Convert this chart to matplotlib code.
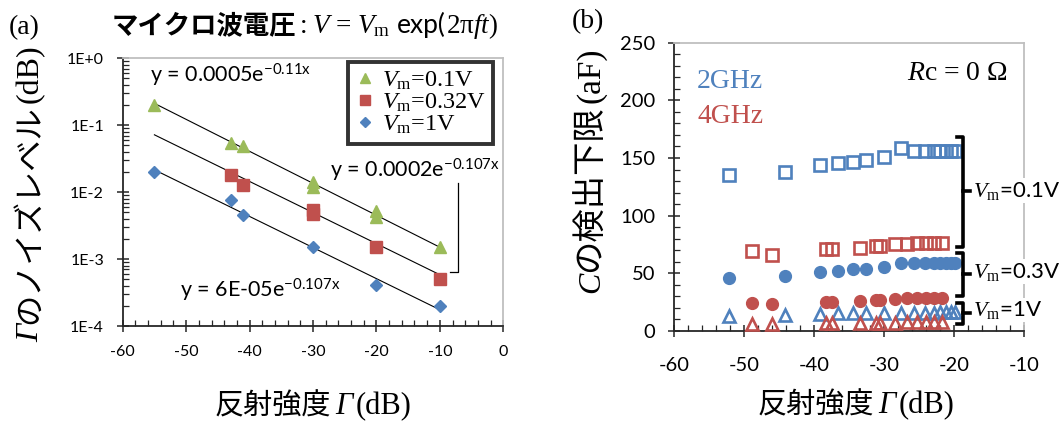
import matplotlib
matplotlib.use("Agg")
import numpy as np
import matplotlib.pyplot as plt
from matplotlib.lines import Line2D
from matplotlib.ticker import MultipleLocator, LogLocator, NullFormatter

plt.rcParams["mathtext.fontset"] = "custom"
plt.rcParams["mathtext.rm"] = "Liberation Serif"
plt.rcParams["mathtext.it"] = "Liberation Serif:italic"
plt.rcParams["mathtext.sf"] = "Lato"
plt.rcParams["font.family"] = ["Lato", "DejaVu Sans"]
plt.rcParams["axes.unicode_minus"] = False

BLUE = "#4F81BD"
RED = "#C0504D"
GREEN = "#9BBB59"
CJK = "Noto Sans CJK JP"
SERIF = "Liberation Serif"

# ---- (a) noise level vs. reflection intensity ----
gamma_v01 = [-55, -43, -41, -30, -30, -20, -20, -10]
noise_v01 = [0.20, 0.055, 0.049, 0.014, 0.012, 0.0052, 0.0042, 0.0015]
gamma_v032 = [-43, -41, -30, -30, -20, -10]
noise_v032 = [0.018, 0.0128, 0.0055, 0.0047, 0.0015, 0.00051]
gamma_v1 = [-55, -43, -41, -30, -20, -10]
noise_v1 = [0.020, 0.0076, 0.0045, 0.0015, 0.00041, 0.0002]

# exponential trend lines  y = a * exp(b * x)
fit_a = [0.0005, 0.0002, 6e-5]
fit_b = [-0.11, -0.107, -0.107]
fit_labels = ["y = 0.0005e$^{\\mathsf{-0.11x}}$",
              "y = 0.0002e$^{\\mathsf{-0.107x}}$",
              "y = 6E-05e$^{\\mathsf{-0.107x}}$"]
fit_range = [-55, -10]

legend_labels = ["$V_{\\mathrm{m}}$=0.1V", "$V_{\\mathrm{m}}$=0.32V", "$V_{\\mathrm{m}}$=1V"]

# ---- (b) detection limit of C ----
gamma_2g = [-52.2, -44.2, -39.2, -36.6, -34.4, -32.6, -30.0, -27.6, -25.7, -24.1,
            -22.8, -22.0, -21.2, -20.5, -19.8]
c_2g_v01 = [135.3, 138, 144, 145.4, 146.8, 148.3, 151.2, 158.5, 156.4, 156.4,
            156.4, 156.4, 156.4, 156.4, 156.4]
c_2g_v03 = [46.2, 48, 51.4, 52.3, 53.5, 54, 55.2, 58.7, 58.7, 58.7,
            58.7, 58.7, 58.7, 58.7, 58.7]
c_2g_v1 = [13, 14, 15, 15.3, 15.3, 15.3, 15.5, 15.8, 16, 16,
           16, 16.2, 16.2, 16.3, 16.3]

gamma_4g = [-48.8, -46.0, -38.3, -37.5, -33.5, -31.1, -30.6, -28.5, -26.7, -25.3,
            -24.0, -22.8, -21.7]
c_4g_v01 = [69.4, 66, 70.8, 70.8, 71.7, 73.7, 73.7, 75.2, 75.8, 76, 76, 76.2, 76.3]
c_4g_v03 = [24, 23, 25.5, 25.5, 26.3, 27.3, 27.3, 28, 28.3, 28.5, 28.6, 28.8, 29]
c_4g_v1 = [6, 6, 7, 7, 7, 7.2, 7.2, 7.3, 7.4, 7.5, 7.5, 7.5, 7.6]

W, H = 1063, 421
fig = plt.figure(figsize=(W / 100, H / 100), dpi=100)


def fpos(x, y):
    return x / W, 1 - y / H


def chain(x, y, pieces, rotation=0):
    """Lay out differently styled pieces one after another from (x, y) in pixels."""
    r = fig.canvas.get_renderer()
    off = 0.0
    for s, kw, gap in pieces:
        if rotation == 0:
            fx, fy = fpos(x + off, y)
        else:
            fx, fy = fpos(x, y - off)
        t = fig.text(fx, fy, s, rotation=rotation, rotation_mode="anchor",
                     ha="left", va="baseline", **kw)
        bb = t.get_window_extent(r)
        off += (bb.width if rotation == 0 else bb.height) + gap


def style_axes(ax):
    for side in ("top", "right"):
        ax.spines[side].set_color("#BFBFBF")
        ax.spines[side].set_linewidth(1.3)
    for side in ("left", "bottom"):
        ax.spines[side].set_color("#262626")
        ax.spines[side].set_linewidth(1.3)
    ax.tick_params(which="major", direction="inout", length=9, width=1.1, color="#262626")
    ax.tick_params(which="minor", direction="in", length=4, width=0.9, color="#262626")
    ax.tick_params(top=False, right=False, which="both")


# ---------------- panel (a) ----------------
ax1 = fig.add_axes([122.7 / W, 1 - 326 / H, 380.6 / W, 267.7 / H])
ax1.set_yscale("log")
ax1.set_xlim(-60, 0)
ax1.set_ylim(1e-4, 1)

h1, = ax1.plot(gamma_v01, noise_v01, "^", color=GREEN, ms=9, mec=GREEN, ls="none",
               label=legend_labels[0], zorder=3)
h2, = ax1.plot(gamma_v032, noise_v032, "s", color=RED, ms=8.5, mec=RED, ls="none",
               label=legend_labels[1], zorder=3)
h3, = ax1.plot(gamma_v1, noise_v1, "D", color=BLUE, ms=6.5, mec=BLUE, ls="none",
               label=legend_labels[2], zorder=3)

xf = np.linspace(fit_range[0], fit_range[1], 50)
for a, b in zip(fit_a, fit_b):
    ax1.plot(xf, a * np.exp(b * xf), color="black", lw=0.8, zorder=2)

ax1.text(-55.7, 0.56, fit_labels[0], fontsize=15.5, va="center", ha="left")
ax1.text(-27.3, 0.0214, fit_labels[1], fontsize=15.5, va="center", ha="left")
ax1.text(-51.0, 3.45e-4, fit_labels[2], fontsize=15.5, va="center", ha="left")
ax1.plot([-8.4, -7.1, -7.1], [6.45e-4, 6.45e-4, 0.0137], color="black", lw=0.9,
         clip_on=False)

ax1.set_xticks(range(-60, 1, 10))
ax1.xaxis.set_minor_locator(MultipleLocator(2))
ax1.set_yticks([1e-4, 1e-3, 1e-2, 1e-1, 1], ["1E-4", "1E-3", "1E-2", "1E-1", "1E+0"])
ax1.yaxis.set_minor_locator(LogLocator(base=10, subs=np.arange(2, 10)))
ax1.yaxis.set_minor_formatter(NullFormatter())
style_axes(ax1)
ax1.tick_params(axis="both", which="major", labelsize=11.5, pad=9)

leg = ax1.legend(handles=[h1, h2, h3], loc="upper right", bbox_to_anchor=(0.973, 0.986),
                 borderaxespad=0, prop={"family": SERIF, "size": 17.5}, frameon=True,
                 fancybox=False, handlelength=0.8, handletextpad=0.3, labelspacing=0.0,
                 borderpad=0.3, markerscale=0.8)
leg.get_frame().set_edgecolor("black")
leg.get_frame().set_linewidth(2.8)

# ---------------- panel (b) ----------------
ax2 = fig.add_axes([674 / W, 1 - 331 / H, 350 / W, 288.3 / H])
ax2.set_xlim(-60, -10)
ax2.set_ylim(0, 250)
open_kw = dict(ls="none", mfc="none", mew=1.9, zorder=3, clip_on=False)
ax2.plot(gamma_2g, c_2g_v01, "s", mec=BLUE, ms=9, **open_kw)
ax2.plot(gamma_2g, c_2g_v03, "o", color=BLUE, ms=8.5, ls="none", zorder=3)
ax2.plot(gamma_2g, c_2g_v1, "^", mec=BLUE, ms=9, **open_kw)
ax2.plot(gamma_4g, c_4g_v01, "s", mec=RED, ms=9, **open_kw)
ax2.plot(gamma_4g, c_4g_v03, "o", color=RED, ms=8.5, ls="none", zorder=3)
ax2.plot(gamma_4g, c_4g_v1, "^", mec=RED, ms=9, **open_kw)

ax2.set_xticks(range(-60, -9, 10))
ax2.xaxis.set_minor_locator(MultipleLocator(2))
ax2.set_yticks(range(0, 251, 50))
ax2.yaxis.set_minor_locator(MultipleLocator(10))
style_axes(ax2)
ax2.tick_params(axis="both", which="major", labelsize=14.5, pad=9)
ax2.tick_params(axis="x", which="major", pad=14)

# frequency and resistance annotations
fig.text(*fpos(697, 88), "2GHz", family=SERIF, fontsize=20, color=BLUE, va="baseline")
fig.text(*fpos(697, 122.7), "4GHz", family=SERIF, fontsize=20, color=RED, va="baseline")
fig.text(*fpos(907, 80), "$R$c = 0 Ω", family=SERIF, fontsize=20, va="baseline")

# amplitude brackets
for top, mid, bot in [(136.7, 190.7, 246.7), (252.7, 274, 296), (302.7, 312.7, 324)]:
    xs = [957.3 / W, 963.3 / W, 963.3 / W, 957.3 / W]
    ys = [1 - top / H, 1 - top / H, 1 - bot / H, 1 - bot / H]
    fig.add_artist(Line2D(xs, ys, color="black", lw=2.6, transform=fig.transFigure,
                          solid_joinstyle="round"))
    fig.add_artist(Line2D([963.3 / W, 970 / W], [1 - mid / H, 1 - mid / H], color="black",
                          lw=2.6, transform=fig.transFigure))

for y, s in [(190.7, "$V_{\\mathrm{m}}$=0.1V"), (271.7, "$V_{\\mathrm{m}}$=0.3V"),
             (310, "$V_{\\mathrm{m}}$=1V")]:
    fig.text(*fpos(973, y), s, fontsize=16, va="center", ha="left",
             bbox=dict(facecolor="white", edgecolor="none", pad=1), zorder=5)

# ---------------- labels ----------------
fig.text(*fpos(9, 34), "(a)", family=SERIF, fontsize=20, va="baseline")
fig.text(*fpos(572, 28), "(b)", family=SERIF, fontsize=20, va="baseline")

chain(112, 33, [
    ("マイクロ波電圧", dict(family=CJK, fontsize=19, weight="bold"), 3),
    (":", dict(family=SERIF, fontsize=19.5), 5),
    ("$V$ = $V_{\\mathrm{m}}$", dict(family=SERIF, fontsize=19.5), 6),
    ("exp(", dict(family="Lato", fontsize=19), 0),
    ("2π$ft$)", dict(family=SERIF, fontsize=19.5), 0),
])

gl = dict(family=SERIF, fontsize=22, style="italic")
chain(215, 414, [
    ("反射強度", dict(family=CJK, fontsize=21), 4),
    ("Γ", gl, 3),
    ("(dB)", dict(family=SERIF, fontsize=22), 0),
])
chain(758, 413, [
    ("反射強度", dict(family=CJK, fontsize=21), 4),
    ("Γ", gl, 3),
    ("(dB)", dict(family=SERIF, fontsize=22), 0),
])
gl2 = dict(family=SERIF, fontsize=23, style="italic")
chain(38, 342, [
    ("Γ", gl2, 0),
    ("のノイズレベル", dict(family=CJK, fontsize=22.5), 2),
    ("(dB)", dict(family=SERIF, fontsize=23), 0),
], rotation=90)
chain(599, 293, [
    ("C", gl2, 0),
    ("の検出下限", dict(family=CJK, fontsize=24), 2),
    ("(aF)", dict(family=SERIF, fontsize=24), 0),
], rotation=90)

fig.savefig("out.png", dpi=100)
